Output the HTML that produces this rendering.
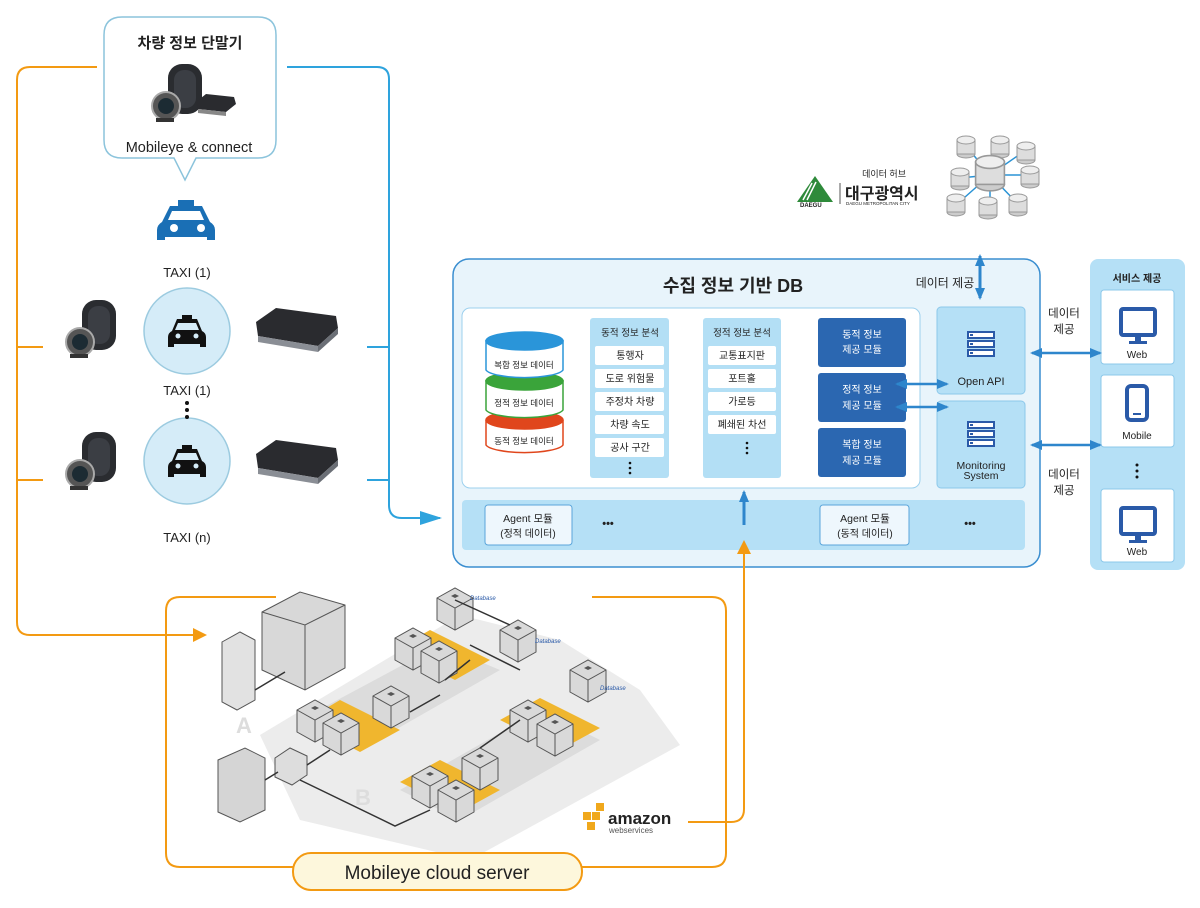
<!DOCTYPE html>
<html><head><meta charset="utf-8">
<style>
html,body{margin:0;padding:0;background:#fff;}
svg{display:block;}
text{font-family:"Liberation Sans","Noto Sans CJK KR",sans-serif;fill:#222;}
</style></head><body>
<svg width="1200" height="908" viewBox="0 0 1200 908" xmlns="http://www.w3.org/2000/svg">
<defs>
<marker id="ao" markerWidth="14" markerHeight="14" refX="12" refY="7" orient="auto" markerUnits="userSpaceOnUse"><path d="M0,0 L14,7 L0,14 z" fill="#f39a12"/></marker>
<marker id="abl" markerWidth="22" markerHeight="14" refX="20" refY="7" orient="auto" markerUnits="userSpaceOnUse"><path d="M0,0 L22,7 L0,14 z" fill="#2ea3dd"/></marker>
<marker id="aa" markerWidth="12" markerHeight="10" refX="10" refY="5" orient="auto-start-reverse" markerUnits="userSpaceOnUse"><path d="M0,0 L12,5 L0,10 z" fill="#2e86cc"/></marker>
<g id="dev">
<rect x="0" y="0" width="34" height="50" rx="14" fill="#2a2c30"/>
<rect x="6" y="6" width="22" height="38" rx="10" fill="#3b3e44"/>
<circle cx="-2" cy="42" r="14" fill="#555" stroke="#aaa" stroke-width="2"/>
<circle cx="-2" cy="42" r="8" fill="#1c2b33"/>
<rect x="-12" y="54" width="18" height="4" fill="#333"/>
</g>
<g id="box">
<path d="M0,14 L20,0 L80,8 L82,20 L62,38 L2,28 z" fill="#2a2b2f"/>
<path d="M2,28 L62,38 L62,44 L2,34 z" fill="#8a8e95"/>
<path d="M62,38 L82,20 L82,26 L62,44 z" fill="#6b6f76"/>
</g>
<g id="cub">
<path d="M0,10 L18,0 L36,10 L36,32 L18,42 L0,32 z" fill="#d9d9d9" stroke="#555" stroke-width="1"/>
<path d="M0,10 L18,20 L36,10 M18,20 L18,42" fill="none" stroke="#555" stroke-width="1"/>
<path d="M14,8 L18,6 L22,8 L18,10z" fill="#555"/>
</g>
<g id="srv">
<rect x="0" y="0" width="26" height="6" fill="#fff" stroke="#2a5aa8" stroke-width="2"/>
<rect x="0" y="9" width="26" height="6" fill="#fff" stroke="#2a5aa8" stroke-width="2"/>
<rect x="0" y="18" width="26" height="6" fill="#fff" stroke="#2a5aa8" stroke-width="2"/>
<rect x="2" y="2" width="3" height="2" fill="#2a5aa8"/><rect x="2" y="11" width="3" height="2" fill="#2a5aa8"/><rect x="2" y="20" width="3" height="2" fill="#2a5aa8"/>
</g>
<g id="mon">
<rect x="0" y="0" width="34" height="26" rx="2" fill="#fff" stroke="#2a5aa8" stroke-width="4"/>
<rect x="14" y="28" width="6" height="4" fill="#2a5aa8"/><rect x="8" y="32" width="18" height="3" fill="#2a5aa8"/>
</g>
<g id="cyl">
<ellipse cx="0" cy="14" rx="9" ry="4" fill="#ccc" stroke="#999"/>
<rect x="-9" y="0" width="18" height="14" fill="#ddd" stroke="#999"/>
<ellipse cx="0" cy="0" rx="9" ry="4" fill="#eee" stroke="#999"/>
</g>
<g id="tx">
<rect x="182" y="293" width="10" height="4" fill="#111"/>
<path d="M177,297 H197 L202,309 Q206,311 206,315 V325 H200 V322 H174 V325 H168 V315 Q168,311 172,309 z" fill="#111"/>
<path d="M178,301 H196 L199,308 H175z" fill="#d5ecf8"/><circle cx="178" cy="314" r="2.5" fill="#d5ecf8"/><circle cx="196" cy="314" r="2.5" fill="#d5ecf8"/>
</g>
</defs>

<!-- orange left connector -->
<path d="M97,67 H30 Q17,67 17,80 V622 Q17,635 30,635 H205" fill="none" stroke="#f39a12" stroke-width="2" marker-end="url(#ao)"/>
<path d="M17,347 H43 M17,480 H43" stroke="#f39a12" stroke-width="2"/>
<!-- blue connector -->
<path d="M287,67 H377 Q389,67 389,79 V505 Q389,518 402,518 H440" fill="none" stroke="#2ea3dd" stroke-width="2" marker-end="url(#abl)"/>
<path d="M367,347 H389 M367,480 H389" stroke="#2ea3dd" stroke-width="2"/>

<!-- bubble -->
<path d="M122,17 H258 Q276,17 276,35 V140 Q276,158 258,158 H196 L185,180 L174,158 H122 Q104,158 104,140 V35 Q104,17 122,17 z" fill="#fff" stroke="#8cc4dc" stroke-width="1.5"/>
<text x="190" y="48" text-anchor="middle" font-size="15" font-weight="bold">차량 정보 단말기</text>
<use href="#dev" x="168" y="64"/>
<path d="M196,102 L206,94 L234,97 L236,104 L226,112 L198,109z" fill="#2a2b2f"/><path d="M198,109 L226,112 L226,116 L198,113z" fill="#888"/>
<text x="189" y="152" text-anchor="middle" font-size="14.5">Mobileye &amp; connect</text>

<!-- taxi icon -->
<g fill="#1a6fb5">
<rect x="178" y="200" width="16" height="6"/>
<path d="M170,206 H202 L210,222 Q215,225 215,230 V240 H207 V237 H165 V240 H157 V230 Q157,225 162,222 z"/>
</g>
<path d="M172,211 H200 L204,220 H168 z" fill="#fff"/>
<circle cx="174" cy="228" r="4" fill="#fff"/><circle cx="201" cy="228" r="4" fill="#fff"/>
<text x="187" y="277" text-anchor="middle" font-size="13">TAXI (1)</text>

<!-- taxi circles -->
<circle cx="187" cy="331" r="43" fill="#d5ecf8" stroke="#9ccbe0" stroke-width="1.5"/>
<circle cx="187" cy="461" r="43" fill="#d5ecf8" stroke="#9ccbe0" stroke-width="1.5"/>
<use href="#tx" x="0" y="22"/>
<use href="#tx" x="0" y="152"/>
<text x="187" y="395" text-anchor="middle" font-size="13">TAXI (1)</text>
<circle cx="187" cy="403" r="2" fill="#111"/><circle cx="187" cy="410" r="2" fill="#111"/><circle cx="187" cy="417" r="2" fill="#111"/>
<text x="187" y="542" text-anchor="middle" font-size="13">TAXI (n)</text>
<use href="#dev" x="82" y="300"/>
<use href="#dev" x="82" y="432"/>
<use href="#box" x="256" y="308"/>
<use href="#box" x="256" y="440"/>

<!-- Daegu logo -->
<path d="M797,202 L815,176 L833,202 z" fill="#2e8a3a"/>
<path d="M803,200 L812,183 M807,200 L816,182" stroke="#fff" stroke-width="1.5"/>
<text x="800" y="207" font-size="6" font-weight="bold" fill="#2e8a3a">DAEGU</text>
<line x1="840" y1="183" x2="840" y2="204" stroke="#555"/>
<text x="906" y="177" text-anchor="end" font-size="9" fill="#333">데이터 허브</text>
<text x="845" y="199" font-size="16" font-weight="bold" fill="#111">대구광역시</text>
<text x="846" y="205" font-size="4.5" fill="#333">DAEGU METROPOLITAN CITY</text>
<!-- db cluster -->
<g stroke="#2a93d5" stroke-width="1.5" fill="none">
<path d="M990,175 L966,146 M990,175 L1000,145 M990,175 L1026,150 M990,175 L960,178 M990,175 L1028,175 M990,175 L956,205 M990,175 L990,208 M990,175 L1018,204"/>
</g>
<use href="#cyl" x="966" y="140"/><use href="#cyl" x="1000" y="140"/><use href="#cyl" x="1026" y="146"/>
<use href="#cyl" x="960" y="172"/><use href="#cyl" x="1030" y="170"/><use href="#cyl" x="956" y="198"/>
<use href="#cyl" x="988" y="201"/><use href="#cyl" x="1018" y="198"/>
<g transform="translate(990,162) scale(1.6)"><use href="#cyl"/></g>

<!-- main DB box -->
<rect x="453" y="259" width="587" height="308" rx="16" fill="#e8f4fb" stroke="#3a8ed0" stroke-width="1.5"/>
<text x="733" y="292" text-anchor="middle" font-size="18" font-weight="bold">수집 정보 기반 DB</text>
<text x="945" y="287" text-anchor="middle" font-size="12">데이터 제공</text>
<line x1="980" y1="256" x2="980" y2="298" stroke="#2e86cc" stroke-width="3" marker-start="url(#aa)" marker-end="url(#aa)"/>
<rect x="462" y="308" width="458" height="180" rx="8" fill="#fff" stroke="#9cd0ee"/>
<!-- cylinders -->
<g stroke-width="1.5">
<path d="M486,420 V445 A39,9 0 0 0 563,445 V420" fill="#fff" stroke="#e0461c"/>
<ellipse cx="524.5" cy="420" rx="38.5" ry="9" fill="#e0461c" stroke="#e0461c"/>
<path d="M486,380 V410 A39,9 0 0 0 563,410 V380" fill="#fff" stroke="#3aa43a"/>
<ellipse cx="524.5" cy="381" rx="38.5" ry="9" fill="#3aa43a" stroke="#3aa43a"/>
<path d="M486,340 V370 A39,9 0 0 0 563,370 V340" fill="#fff" stroke="#2a95d9"/>
<ellipse cx="524.5" cy="341" rx="38.5" ry="9" fill="#2a95d9" stroke="#2a95d9"/>
</g>
<text x="524" y="368" text-anchor="middle" font-size="8.5">복합 정보 데이터</text>
<text x="524" y="406" text-anchor="middle" font-size="8.5">정적 정보 데이터</text>
<text x="524" y="444" text-anchor="middle" font-size="8.5">동적 정보 데이터</text>

<rect x="590" y="318" width="79" height="160" rx="3" fill="#b3dff5"/>
<text x="630" y="336" text-anchor="middle" font-size="9.5">동적 정보 분석</text>
<g fill="#fff"><rect x="595" y="346" width="69" height="19" rx="2"/><rect x="595" y="369" width="69" height="19" rx="2"/><rect x="595" y="392" width="69" height="19" rx="2"/><rect x="595" y="415" width="69" height="19" rx="2"/><rect x="595" y="438" width="69" height="19" rx="2"/></g>
<g font-size="10" text-anchor="middle"><text x="630" y="359">통행자</text><text x="630" y="382">도로 위험물</text><text x="630" y="405">주정차 차량</text><text x="630" y="428">차량 속도</text><text x="630" y="451">공사 구간</text></g>
<circle cx="630" cy="463" r="1.3" fill="#111"/><circle cx="630" cy="468" r="1.3" fill="#111"/><circle cx="630" cy="473" r="1.3" fill="#111"/>

<rect x="703" y="318" width="78" height="160" rx="3" fill="#b3dff5"/>
<text x="742" y="336" text-anchor="middle" font-size="9.5">정적 정보 분석</text>
<g fill="#fff"><rect x="708" y="346" width="68" height="19" rx="2"/><rect x="708" y="369" width="68" height="19" rx="2"/><rect x="708" y="392" width="68" height="19" rx="2"/><rect x="708" y="415" width="68" height="19" rx="2"/></g>
<g font-size="10" text-anchor="middle"><text x="742" y="359">교통표지판</text><text x="742" y="382">포트홀</text><text x="742" y="405">가로등</text><text x="742" y="428">폐쇄된 차선</text></g>
<circle cx="747" cy="443" r="1.3" fill="#111"/><circle cx="747" cy="448" r="1.3" fill="#111"/><circle cx="747" cy="453" r="1.3" fill="#111"/>

<g fill="#2b67b1"><rect x="818" y="318" width="88" height="49" rx="3"/><rect x="818" y="373" width="88" height="49" rx="3"/><rect x="818" y="428" width="88" height="49" rx="3"/></g>
<g font-size="10" text-anchor="middle">
<text x="862" y="338" style="fill:#fff">동적 정보</text><text x="862" y="353" style="fill:#fff">제공 모듈</text>
<text x="862" y="393" style="fill:#fff">정적 정보</text><text x="862" y="409" style="fill:#fff">제공 모듈</text>
<text x="862" y="448" style="fill:#fff">복합 정보</text><text x="862" y="464" style="fill:#fff">제공 모듈</text>
</g>

<rect x="937" y="307" width="88" height="87" rx="4" fill="#b5e0f6" stroke="#8cc8ea"/>
<use href="#srv" x="968" y="332"/>
<text x="981" y="385" text-anchor="middle" font-size="11">Open API</text>
<rect x="937" y="401" width="88" height="87" rx="4" fill="#b5e0f6" stroke="#8cc8ea"/>
<use href="#srv" x="968" y="422"/>
<text x="981" y="469" text-anchor="middle" font-size="10.5">Monitoring</text>
<text x="981" y="479" text-anchor="middle" font-size="10.5">System</text>
<line x1="897" y1="384" x2="947" y2="384" stroke="#2e86cc" stroke-width="2.5" marker-start="url(#aa)" marker-end="url(#aa)"/>
<line x1="897" y1="407" x2="947" y2="407" stroke="#2e86cc" stroke-width="2.5" marker-start="url(#aa)" marker-end="url(#aa)"/>

<rect x="462" y="500" width="563" height="50" rx="4" fill="#b5e0f6"/>
<rect x="485" y="505" width="87" height="40" rx="3" fill="#eef7fd" stroke="#5aa5da"/>
<text x="528" y="522" text-anchor="middle" font-size="10.5">Agent 모듈</text><text x="528" y="537" text-anchor="middle" font-size="10">(정적 데이터)</text>
<rect x="820" y="505" width="89" height="40" rx="3" fill="#eef7fd" stroke="#5aa5da"/>
<text x="865" y="522" text-anchor="middle" font-size="10.5">Agent 모듈</text><text x="865" y="537" text-anchor="middle" font-size="10">(동적 데이터)</text>
<text x="608" y="527" text-anchor="middle" font-size="11" font-weight="bold">•••</text>
<text x="970" y="527" text-anchor="middle" font-size="11" font-weight="bold">•••</text>
<line x1="744" y1="525" x2="744" y2="492" stroke="#2e86cc" stroke-width="3" marker-end="url(#aa)"/>

<!-- service panel -->
<rect x="1090" y="259" width="95" height="311" rx="8" fill="#b5e0f6"/>
<text x="1137" y="282" text-anchor="middle" font-size="10" font-weight="bold">서비스 제공</text>
<rect x="1101" y="290" width="73" height="74" rx="3" fill="#fff" stroke="#8cc8ea"/>
<use href="#mon" x="1121" y="309"/><text x="1137" y="358" text-anchor="middle" font-size="10">Web</text>
<rect x="1101" y="375" width="73" height="72" rx="3" fill="#fff" stroke="#8cc8ea"/>
<rect x="1127" y="386" width="20" height="34" rx="4" fill="#fff" stroke="#2a5aa8" stroke-width="4"/><rect x="1133" y="413" width="8" height="2" fill="#2a5aa8"/>
<text x="1137" y="439" text-anchor="middle" font-size="10">Mobile</text>
<circle cx="1137" cy="465" r="1.5" fill="#111"/><circle cx="1137" cy="471" r="1.5" fill="#111"/><circle cx="1137" cy="477" r="1.5" fill="#111"/>
<rect x="1101" y="489" width="73" height="73" rx="3" fill="#fff" stroke="#8cc8ea"/>
<use href="#mon" x="1121" y="508"/><text x="1137" y="555" text-anchor="middle" font-size="10">Web</text>
<line x1="1032" y1="353" x2="1100" y2="353" stroke="#2e86cc" stroke-width="2.5" marker-start="url(#aa)" marker-end="url(#aa)"/>
<line x1="1032" y1="445" x2="1100" y2="445" stroke="#2e86cc" stroke-width="2.5" marker-start="url(#aa)" marker-end="url(#aa)"/>
<text x="1064" y="317" text-anchor="middle" font-size="11.5">데이터</text><text x="1064" y="333" text-anchor="middle" font-size="11.5">제공</text>
<text x="1064" y="478" text-anchor="middle" font-size="11.5">데이터</text><text x="1064" y="494" text-anchor="middle" font-size="11.5">제공</text>

<!-- cloud frame -->
<path d="M276,597 H180 Q166,597 166,611 V853 Q166,867 180,867 H293" fill="none" stroke="#f39a12" stroke-width="2"/>
<path d="M592,597 H712 Q726,597 726,611 V853 Q726,867 712,867 H582" fill="none" stroke="#f39a12" stroke-width="2"/>
<path d="M688,822 H731 Q744,822 744,809 V542" fill="none" stroke="#f39a12" stroke-width="2" marker-end="url(#ao)"/>

<!-- AWS diagram approximation -->
<path d="M260,735 L460,615 L560,640 L640,690 L680,745 L470,860 L300,820 z" fill="#ececec"/>
<path d="M300,720 L440,645 L500,670 L360,750z" fill="#dcdcdc"/>
<path d="M400,790 L540,710 L600,740 L460,820z" fill="#dcdcdc"/>
<path d="M303,722 L340,700 L400,730 L360,752z" fill="#f0b62e"/>
<path d="M400,782 L440,760 L500,790 L460,812z" fill="#f0b62e"/>
<path d="M395,650 L430,630 L490,660 L455,680z" fill="#f0b62e"/>
<path d="M500,720 L540,698 L600,728 L560,750z" fill="#f0b62e"/>
<path d="M262,612 L300,592 L345,605 L345,668 L305,690 L262,670 z" fill="#d8d8d8" stroke="#555"/>
<path d="M262,612 L305,625 L345,605 M305,625 V690" fill="none" stroke="#555"/>
<path d="M222,642 L240,632 L255,640 L255,700 L237,710 L222,702 z" fill="#e2e2e2" stroke="#555"/>
<path d="M218,760 L245,748 L265,758 L265,810 L240,822 L218,812 z" fill="#d5d5d5" stroke="#555"/>
<path d="M275,758 L290,748 L307,756 L307,775 L292,785 L275,777 z" fill="#ddd" stroke="#555"/>
<use href="#cub" x="297" y="700"/><use href="#cub" x="323" y="713"/>
<use href="#cub" x="373" y="686"/><use href="#cub" x="395" y="628"/><use href="#cub" x="421" y="641"/>
<use href="#cub" x="510" y="700"/><use href="#cub" x="537" y="714"/><use href="#cub" x="462" y="748"/>
<use href="#cub" x="412" y="766"/><use href="#cub" x="438" y="780"/>
<use href="#cub" x="437" y="588"/><use href="#cub" x="500" y="620"/><use href="#cub" x="570" y="660"/>
<g stroke="#333" stroke-width="1.5" fill="none">
<path d="M255,690 L285,672 M265,780 L278,772 M307,765 L330,750 M300,780 L395,826 L430,810 M410,712 L440,695 M445,680 L470,660 M470,645 L520,670 M520,720 L480,748 M455,600 L510,625"/>
</g>
<g font-size="6" font-style="italic"><text x="470" y="600" style="fill:#2a5aa8">Database</text><text x="535" y="643" style="fill:#2a5aa8">Database</text><text x="600" y="690" style="fill:#2a5aa8">Database</text></g>
<text x="236" y="733" font-size="22" font-weight="bold" style="fill:#ddd">A</text>
<text x="355" y="805" font-size="22" font-weight="bold" style="fill:#ddd">B</text>
<rect x="293" y="853" width="289" height="37" rx="18" fill="#fdf7dc" stroke="#f39a12" stroke-width="2"/>
<text x="437" y="879" text-anchor="middle" font-size="19">Mobileye cloud server</text>
<!-- amazon logo -->
<g fill="#f0a81c"><rect x="583" y="812" width="8" height="8"/><rect x="592" y="812" width="8" height="8"/><rect x="587" y="822" width="8" height="8"/><rect x="596" y="803" width="8" height="8"/></g>
<text x="608" y="824" font-size="17" font-weight="bold" style="fill:#222">amazon</text>
<text x="609" y="833" font-size="8" style="fill:#555">webservices</text>
</svg>
</body></html>
